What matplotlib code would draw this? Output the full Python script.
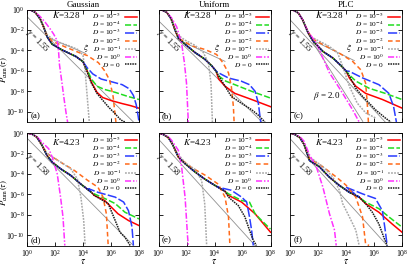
import matplotlib
matplotlib.use('Agg')
import matplotlib.pyplot as plt
from matplotlib.ticker import FixedLocator, NullLocator, LogFormatterMathtext

plt.rcParams['font.family'] = ['Liberation Serif', 'DejaVu Serif']
plt.rcParams['mathtext.fontset'] = 'stix'

# legend labels, in drawing order
d_labels = [r'$D$ = 10$^{-5}$', r'$D$ = 10$^{-4}$', r'$D$ = 10$^{-3}$',
            r'$D$ = 10$^{-2}$', r'$D$ = 10$^{-1}$', r'$D$ = 10$^{0}$', r'$D$ = 0']
titles = ['Gaussian', 'Uniform', 'PLC']
k_values = ['3.28', '4.23']
gammas = ['1.55', '1.58']
panel_tags = ['(a)', '(b)', '(c)', '(d)', '(e)', '(f)']

# all curves as (log10 tau, log10 P_cum)
# keys: D = 1e-5, 1e-4, 1e-3, 1e-2, 1e-1, 1e0, 0
head_a = ([0, 0.3, 0.6, 0.95, 1.2, 1.45, 1.8, 2.5, 3.5, 4.0],
          [0, -0.08, -0.3, -0.95, -1.75, -2.7, -3.4, -3.95, -4.6, -5.1])
gauss_328 = {
    '-5': ([4.3, 4.6, 5.0, 5.4, 6.0, 6.8, 7.4, 8.0], [-6.0, -7.1, -8.1, -8.6, -8.9, -9.2, -9.4, -9.65]),
    '-4': ([4.3, 4.6, 5.0, 5.5, 6.3, 7.2, 8.0], [-5.9, -6.8, -7.5, -7.8, -8.1, -8.5, -8.8]),
    '-3': ([4.3, 4.7, 5.3, 6.0, 6.8, 7.3, 7.6, 7.8, 7.95, 8.0], [-5.7, -6.3, -6.8, -7.05, -7.35, -7.75, -8.4, -9.3, -10.5, -11]),
    '-2': ([0, 0.3, 0.6, 0.95, 1.2, 1.45, 1.8, 2.8, 3.7, 4.3, 5.1, 5.55, 5.9, 6.15, 6.35],
           [0, -0.08, -0.3, -0.95, -1.75, -2.55, -3.1, -3.7, -4.2, -4.5, -5.2, -6.0, -6.9, -8.5, -11]),
    '-1': ([0, 0.3, 0.6, 0.95, 1.2, 1.45, 2.0, 3.0, 3.7, 4.0, 4.15, 4.3, 4.45],
           [0, -0.08, -0.3, -0.95, -1.7, -2.5, -3.05, -3.55, -3.95, -4.5, -6.0, -8.5, -11]),
    '0': ([0, 0.3, 0.58, 0.95, 1.31, 1.67, 1.91, 2.16, 2.25, 2.32, 2.5, 2.64, 2.8, 2.9],
          [0, -0.08, -0.25, -0.7, -1.27, -1.93, -2.42, -3.07, -4.0, -5.4, -7.2, -8.66, -10.2, -11]),
    'D0': ([4.3, 4.6, 5.0, 5.3, 5.8, 6.3, 6.7, 7.0], [-6.1, -7.2, -8.2, -8.7, -9.5, -10.2, -10.8, -11]),
}
head_b = ([0, 0.3, 0.6, 0.9, 1.18, 1.42, 1.9, 2.6, 3.3, 3.8, 4.1],
          [0, -0.08, -0.3, -0.9, -2.0, -2.8, -3.4, -4.2, -4.85, -5.5, -6.0])
unif_328 = {
    '-5': ([4.3, 4.75, 5.45, 6.65, 8.0], [-6.8, -7.5, -8.2, -8.8, -9.5]),
    '-4': ([4.3, 4.8, 5.45, 6.65, 8.0], [-6.5, -7.0, -7.35, -8.0, -8.66]),
    '-3': ([4.3, 5.0, 5.9, 6.5, 6.9, 7.13, 7.3], [-6.2, -6.7, -7.0, -7.35, -8.0, -9.15, -11]),
    '-2': ([0, 0.3, 0.6, 0.9, 1.18, 1.42, 2.37, 3.3, 4.15, 4.6, 5.0, 5.2, 5.35, 5.4],
           [0, -0.08, -0.3, -0.9, -2.0, -2.8, -3.55, -3.9, -4.4, -5.2, -6.2, -7.5, -9.5, -11]),
    '-1': ([0, 0.3, 0.6, 0.9, 1.18, 1.4, 1.9, 2.6, 3.2, 3.56, 3.75, 3.85],
           [0, -0.08, -0.3, -0.9, -1.9, -2.5, -3.0, -3.5, -4.2, -5.2, -7.2, -11]),
    '0': ([0, 0.3, 0.6, 0.95, 1.3, 1.65, 1.85, 2.0, 2.13],
          [0, -0.08, -0.3, -0.85, -1.7, -3.3, -5.2, -7.2, -11]),
    'D0': ([4.3, 4.75, 5.2, 5.9, 6.65, 7.1, 7.6], [-6.5, -7.5, -8.5, -9.15, -9.8, -10.3, -11]),
}
head_c = ([0, 0.3, 0.6, 0.9, 1.3, 1.65, 2.35, 3.06, 3.65, 4.0],
          [0, -0.1, -0.35, -1.0, -2.3, -3.1, -4.1, -4.74, -5.5, -6.0])
plc_328 = {
    '-5': ([4.24, 4.7, 5.4, 6.6, 8.0], [-6.7, -7.5, -8.2, -8.8, -9.64]),
    '-4': ([4.24, 4.7, 5.65, 6.8, 8.0], [-6.4, -7.0, -7.7, -8.2, -8.8]),
    '-3': ([4.24, 5.2, 6.35, 7.06, 7.4, 7.6], [-6.05, -6.7, -7.35, -8.2, -9.5, -11]),
    '-2': ([0, 0.3, 0.6, 0.9, 1.3, 1.65, 2.6, 3.5, 4.47, 5.06, 5.4, 5.5, 5.6],
           [0, -0.1, -0.35, -1.0, -2.2, -2.9, -3.6, -4.25, -5.07, -5.9, -7.2, -8.8, -11]),
    '-1': ([0, 0.3, 0.6, 0.9, 1.3, 1.4, 2.1, 2.8, 3.4, 3.76, 4.24, 4.8, 5.4, 6.1],
           [0, -0.1, -0.35, -1.0, -2.2, -2.6, -3.1, -3.6, -4.25, -5.55, -7.5, -9.15, -10.1, -10.6]),
    '0': ([0, 0.3, 0.6, 0.9, 1.3, 1.88, 2.35, 2.82, 3.3, 3.76, 4.47, 4.94],
          [0, -0.1, -0.35, -1.0, -2.2, -3.27, -4.74, -6.2, -7.2, -8.2, -9.8, -11]),
    'D0': ([4.24, 4.7, 5.18, 5.65, 6.1, 6.8, 7.2], [-6.5, -7.7, -8.5, -9.15, -9.8, -10.6, -11]),
}
head_d = ([0, 0.35, 0.7, 1.07, 1.43, 1.8, 2.4, 3.13, 3.85, 4.6],
          [0, -0.1, -0.4, -1.2, -2.2, -2.85, -3.5, -4.15, -5.0, -5.8])
gauss_423 = {
    '-5': ([4.8, 5.55, 6.5, 7.25, 8.0], [-6.1, -6.6, -7.9, -8.56, -9.05]),
    '-4': ([4.8, 5.55, 6.3, 7.0, 8.0], [-5.95, -6.4, -6.9, -7.75, -8.4]),
    '-3': ([4.4, 5.07, 6.3, 6.9, 7.25, 7.5, 7.6], [-5.45, -5.8, -6.27, -6.75, -7.6, -9.2, -11]),
    '-2': ([0, 0.35, 0.7, 1.07, 1.43, 2.4, 3.37, 4.34, 5.07, 5.43, 5.67, 5.8],
           [0, -0.1, -0.4, -1.2, -2.0, -2.85, -3.65, -4.64, -5.3, -6.27, -7.9, -11]),
    '-1': ([0, 0.35, 0.7, 1.07, 1.43, 2.4, 3.13, 3.6, 3.85, 4.05, 4.15],
           [0, -0.1, -0.4, -1.2, -2.0, -2.85, -3.5, -4.5, -6.27, -8.56, -11]),
    '0': ([0, 0.35, 0.7, 1.07, 1.55, 1.8, 2.16, 2.4, 2.57, 2.7],
          [0, -0.1, -0.35, -0.9, -1.54, -2.35, -4.0, -6.3, -8.2, -11]),
    'D0': ([4.8, 5.8, 6.3, 6.64, 7.0, 7.37], [-6.1, -6.9, -8.56, -9.7, -10.2, -11]),
}
head_e = ([0, 0.35, 0.7, 1.0, 1.42, 1.9, 2.6, 3.3, 4.0, 4.75],
          [0, -0.15, -0.45, -1.1, -2.35, -3.0, -3.8, -4.5, -5.1, -5.7])
unif_423 = {
    '-5': ([5.0, 5.94, 6.9, 8.0], [-6.1, -6.76, -7.9, -9.7]),
    '-4': ([5.0, 5.94, 6.5, 6.9, 7.37, 8.0], [-5.95, -6.6, -6.76, -7.9, -8.56, -9.4]),
    '-3': ([4.27, 5.2, 5.94, 6.3, 6.5, 6.65, 6.77], [-5.3, -5.6, -6.27, -6.76, -8.2, -9.5, -11]),
    '-2': ([0, 0.35, 0.7, 1.0, 1.42, 2.37, 3.3, 4.27, 4.75, 5.0, 5.1],
           [0, -0.15, -0.45, -1.1, -2.35, -3.4, -4.1, -5.0, -6.27, -8.2, -11]),
    '-1': ([0, 0.35, 0.7, 1.0, 1.18, 1.9, 2.6, 3.08, 3.3, 3.44],
           [0, -0.15, -0.45, -1.1, -1.7, -2.9, -3.55, -4.64, -6.9, -11]),
    '0': ([0, 0.35, 0.7, 0.94, 1.42, 1.65, 1.9, 2.08, 2.13],
          [0, -0.12, -0.35, -0.72, -1.7, -3.3, -6.3, -10.2, -11]),
    'D0': ([5.0, 5.7, 6.17, 6.5, 6.77, 7.0], [-6.27, -7.1, -8.2, -9.5, -10.5, -11]),
}
head_f = ([0, 0.35, 0.7, 1.0, 1.4, 2.1, 2.8, 3.5, 4.24, 4.94],
          [0, -0.15, -0.45, -1.1, -2.7, -3.3, -4.3, -5.1, -5.8, -6.27])
plc_423 = {
    '-5': ([5.4, 6.35, 7.3, 8.0], [-6.9, -7.75, -8.9, -9.7]),
    '-4': ([5.4, 6.35, 7.06, 8.0], [-6.76, -7.4, -8.2, -9.2]),
    '-3': ([4.0, 5.18, 6.1, 6.6, 6.8, 6.94], [-5.3, -5.95, -6.4, -7.6, -9.5, -11]),
    '-2': ([0, 0.35, 0.7, 1.0, 1.41, 2.35, 3.3, 4.0, 4.7, 5.18, 5.4, 5.65],
           [0, -0.15, -0.45, -1.1, -2.5, -3.3, -4.3, -5.1, -6.27, -8.2, -10.85, -11]),
    '-1': ([0, 0.35, 0.7, 1.0, 1.41, 2.35, 3.06, 3.53, 3.76, 4.24, 4.7, 4.94],
           [0, -0.15, -0.45, -1.1, -2.35, -3.3, -4.3, -5.6, -6.9, -8.2, -9.5, -11]),
    '0': ([0, 0.35, 0.7, 1.0, 1.41, 1.88, 2.35, 2.82, 3.18, 3.3],
          [0, -0.1, -0.35, -0.8, -2.2, -3.3, -5.3, -7.9, -9.5, -11]),
    'D0': ([5.4, 5.88, 6.35, 6.7, 6.94], [-6.9, -7.75, -8.9, -10.2, -11]),
}
# curves that share the early part: these keys get the panel head in front
tail_keys = ['-5', '-4', '-3', 'D0']

# thin grey guide lines: gamma fit, xi line (top row), beta fit (PLC top)
gamma_lines = [([0, 7.6], [-0.7, -11]), ([0, 7.4], [-1.1, -11]), ([0, 6.8], [-1.0, -11]),
               ([0, 7.6], [-0.5, -11]), ([0, 6.9], [-0.6, -11]), ([0, 6.94], [-0.55, -11])]
xi_lines = [([1.6, 4.2], [-2.8, -4.3]), ([1.9, 4.75], [-3.27, -5.07]), ([1.9, 4.6], [-3.2, -5.0])]
beta_line = ([1.65, 5.2], [-3.27, -10.95])

panels = [(head_a, gauss_328), (head_b, unif_328), (head_c, plc_328),
          (head_d, gauss_423), (head_e, unif_423), (head_f, plc_423)]
keys = ['-5', '-4', '-3', '-2', '-1', '0', 'D0']
styles = [
    dict(color='#ff0000', ls='-'),
    dict(color='#20dd20', ls=(0, (4, 1.5))),
    dict(color='#2a3cff', ls=(0, (6, 1.5))),
    dict(color='#ff6a1a', ls=(0, (3, 2))),
    dict(color='#a8a8a8', ls=(0, (1.2, 0.8))),
    dict(color='#ff30ff', ls=(0, (4, 1.2, 1, 1.2))),
    dict(color='#1a1a1a', ls=(0, (1, 0.6))),
]

fig = plt.figure(figsize=(4.11, 2.66), dpi=100)
lefts = [27 / 411, 158.5 / 411, 290 / 411]
bottoms = [1 - 122 / 266, 1 - 245.5 / 266]
w, h = 112 / 411, 112.5 / 266

for i, (head, curves) in enumerate(panels):
    row, col = divmod(i, 3)
    ax = fig.add_axes([lefts[col], bottoms[row], w, h])
    ax.set_xscale('log')
    ax.set_yscale('log')

    gx, gy = gamma_lines[i]
    ax.plot([10 ** v for v in gx], [10 ** v for v in gy], color='#909090', lw=0.6, zorder=1)
    if row == 0:
        xx, xy = xi_lines[col]
        ax.plot([10 ** v for v in xx], [10 ** v for v in xy], color='#909090', lw=0.6, zorder=1)
    if i == 2:
        ax.plot([10 ** v for v in beta_line[0]], [10 ** v for v in beta_line[1]],
                color='#909090', lw=0.6, zorder=1)

    for key, lab, st in zip(keys, d_labels, styles):
        x, y = curves[key]
        if key in tail_keys:
            x = head[0] + x
            y = head[1] + y
        ax.plot([10 ** v for v in x], [10 ** v for v in y], lw=1.1, label=lab,
                color=st['color'], linestyle=st['ls'], zorder=2)

    ax.set_xlim(1, 1e8)
    ax.set_ylim(1e-11, 1)
    ax.xaxis.set_major_locator(FixedLocator([1, 1e2, 1e4, 1e6, 1e8]))
    ax.yaxis.set_major_locator(FixedLocator([1, 1e-2, 1e-4, 1e-6, 1e-8, 1e-10]))
    ax.xaxis.set_minor_locator(NullLocator())
    ax.yaxis.set_minor_locator(NullLocator())
    ax.xaxis.set_major_formatter(LogFormatterMathtext())
    ax.yaxis.set_major_formatter(LogFormatterMathtext())
    ax.tick_params(direction='in', top=True, right=True, length=3, width=0.6,
                   labelsize=5.7, pad=1.5)
    for s in ax.spines.values():
        s.set_linewidth(0.6)
    if row == 0:
        ax.tick_params(labelbottom=False)
        ax.set_title(titles[col], fontsize=6.5, pad=1.5)
        ax.text(0.5, 0.64, r'$\xi$', transform=ax.transAxes, fontsize=6.5)
    else:
        ax.set_xlabel(r'$\tau$', fontsize=7, labelpad=-1)
    if col != 0:
        ax.tick_params(labelleft=False)
    else:
        ax.set_ylabel(r'$P_{\rm cum}(\tau)$', fontsize=6.2)
        ax.yaxis.set_label_coords(-0.155, 0.47)

    ax.text(0.35, 0.95 if row == 0 else 0.92, r'$K$=' + k_values[row],
            transform=ax.transAxes, fontsize=6.5, ha='center', va='center')
    ax.text(0.09, 0.72, r'$\gamma$ = ' + gammas[row], transform=ax.transAxes,
            fontsize=6, ha='center', va='center', rotation=-45)
    ax.text(0.03, 0.05, panel_tags[i], transform=ax.transAxes, fontsize=6.5,
            ha='left', va='center')
    if i == 2:
        ax.text(0.33, 0.23, r'$\beta$ = 2.0', transform=ax.transAxes, fontsize=6.5,
                ha='center', va='center')

    ax.legend(loc='upper right', frameon=False, fontsize=5.3, markerfirst=False,
              handlelength=1.7, handletextpad=0.5, labelspacing=-0.2,
              borderaxespad=0.1, borderpad=0.15)

fig.savefig('out.png', dpi=100)
